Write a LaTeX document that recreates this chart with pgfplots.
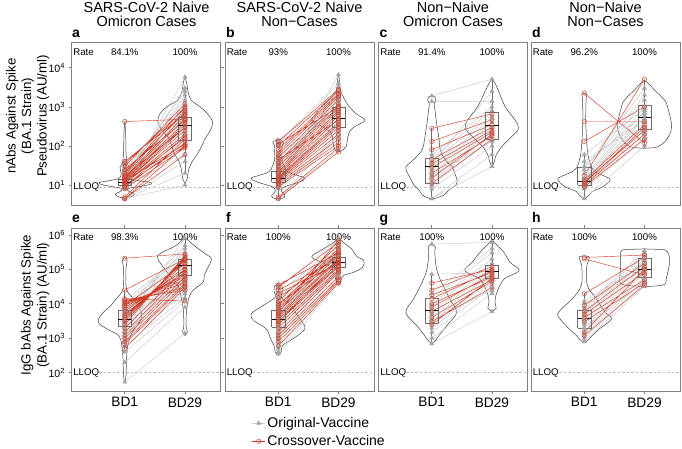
\documentclass[border=0pt]{standalone}
\usepackage{fontspec}
\setmainfont{Liberation Sans}
\usepackage{pgfplots}
\usepackage{pgfplotstable}
\pgfplotsset{compat=1.18}
\newcommand{\fs}[1]{\fontsize{#1}{#1}\selectfont}
\definecolor{gpt}{RGB}{165,165,165}
\definecolor{gln}{RGB}{200,200,200}
\definecolor{rd}{RGB}{208,60,40}
\definecolor{frm}{RGB}{128,128,128}

% ---------- violin outlines (y, left half-width, right half-width) ----------
\pgfplotstableread{
y l r
4.6 0 0
5.0 0.1 0.1
5.8 0.16 0.16
6.8 0.08 0.08
8.2 0.06 0.06
10 0.35 0.38
11.5 0.43 0.44
13 0.25 0.22
15 0.09 0.08
20 0.06 0.06
28 0.08 0.08
36 0.04 0.04
70 0.02 0.02
200 0.015 0.015
420 0 0
}\vaA
\pgfplotstableread{
y l r
11 0 0
15 0.04 0.04
25 0.06 0.06
40 0.1 0.12
60 0.17 0.2
100 0.22 0.28
150 0.26 0.33
250 0.38 0.42
400 0.45 0.46
650 0.42 0.38
1000 0.3 0.25
1500 0.12 0.1
2500 0.05 0.05
4000 0.03 0.03
5800 0 0
}\vaB
\pgfplotstableread{
y l r
4.3 0 0
4.8 0.1 0.1
5.5 0.11 0.11
7 0.05 0.05
9 0.1 0.1
12 0.35 0.35
15 0.45 0.44
18 0.3 0.3
22 0.15 0.15
30 0.1 0.1
45 0.06 0.06
70 0.06 0.06
100 0.06 0.06
120 0.09 0.09
140 0.05 0.05
150 0 0
}\vbA
\pgfplotstableread{
y l r
71 0 0
80 0.06 0.08
100 0.08 0.13
150 0.1 0.15
210 0.12 0.17
300 0.25 0.25
450 0.44 0.44
650 0.38 0.3
1100 0.25 0.16
1800 0.1 0.08
2750 0.03 0.03
4500 0.02 0.02
6600 0 0
}\vbB
\pgfplotstableread{
y l r
4.3 0 0
5.5 0.15 0.2
7.4 0.21 0.28
10 0.3 0.4
13.5 0.34 0.42
20 0.4 0.38
29 0.43 0.34
45 0.3 0.22
80 0.16 0.14
150 0.12 0.12
380 0.08 0.08
900 0.05 0.05
1200 0.04 0.04
1500 0.07 0.07
1800 0.05 0.05
1900 0 0
}\vcA
\pgfplotstableread{
y l r
29 0 0
40 0.04 0.04
54 0.06 0.06
95 0.15 0.16
175 0.33 0.33
280 0.44 0.44
470 0.4 0.38
1000 0.24 0.22
2750 0.1 0.1
4000 0.05 0.05
5100 0 0
}\vcB
\pgfplotstableread{
y l r
4.3 0 0
5.5 0.08 0.08
6.8 0.13 0.13
9.1 0.32 0.31
13.5 0.44 0.43
16 0.4 0.37
22 0.2 0.18
27 0.13 0.13
44 0.08 0.08
80 0.05 0.05
380 0.025 0.025
1500 0.03 0.03
2000 0.04 0.04
2240 0 0
}\vdA
\pgfplotstableread{
y l r
87 0 0
90 0.15 0.15
95 0.24 0.22
140 0.36 0.36
310 0.45 0.45
1020 0.38 0.38
1500 0.33 0.33
2750 0.16 0.16
4000 0.06 0.06
4700 0 0
}\vdB
\pgfplotstableread{
y l r
54 0 0
80 0.02 0.02
260 0.03 0.03
620 0.05 0.05
1200 0.1 0.1
1870 0.3 0.16
2950 0.44 0.25
5100 0.38 0.28
8900 0.23 0.23
14000 0.14 0.14
27000 0.03 0.03
100000 0.02 0.02
180000 0.04 0.04
220000 0 0
}\veA
\pgfplotstableread{
y l r
1200 0 0
1500 0.04 0.04
2350 0.02 0.02
7300 0.03 0.03
21000 0.08 0.1
42000 0.15 0.3
66000 0.25 0.32
103000 0.34 0.37
200000 0.45 0.44
280000 0.42 0.34
480000 0.16 0.16
700000 0.05 0.05
840000 0 0
}\veB
\pgfplotstableread{
y l r
320 0 0
400 0.05 0.05
620 0.07 0.07
980 0.13 0.25
1870 0.2 0.44
3200 0.4 0.38
5100 0.45 0.3
8900 0.25 0.22
15500 0.05 0.05
22000 0.07 0.07
33000 0.06 0.06
37000 0 0
}\vfA
\pgfplotstableread{
y l r
34000 0 0
45000 0.04 0.04
66000 0.06 0.08
82000 0.1 0.25
115000 0.12 0.4
180000 0.35 0.42
240000 0.44 0.3
390000 0.25 0.22
600000 0.08 0.08
840000 0 0
}\vfB
\pgfplotstableread{
y l r
690 0 0
900 0.07 0.07
1200 0.12 0.12
2350 0.25 0.25
5600 0.43 0.41
14000 0.3 0.3
42000 0.16 0.16
102000 0.08 0.08
300000 0.05 0.05
450000 0.06 0.06
540000 0 0
}\vgA
\pgfplotstableread{
y l r
6000 0 0
7500 0.07 0.07
11000 0.05 0.05
21000 0.08 0.08
52000 0.2 0.2
91000 0.45 0.45
160000 0.33 0.3
310000 0.2 0.2
550000 0.06 0.06
720000 0 0
}\vgB
\pgfplotstableread{
y l r
740 0 0
900 0.07 0.07
1200 0.13 0.13
1870 0.25 0.25
3600 0.4 0.45
5600 0.43 0.35
14000 0.2 0.2
34000 0.05 0.05
115000 0.04 0.04
160000 0.06 0.06
230000 0.08 0.08
240000 0 0
}\vhA
\pgfplotstableread{
y l r
32000 0 0
33000 0.2 0.2
37000 0.38 0.34
52000 0.41 0.36
103000 0.4 0.4
200000 0.4 0.42
350000 0.38 0.36
380000 0.2 0.2
390000 0 0
}\vhB

\pgfplotsset{
  vio/.style={smooth, tension=0.6, draw=black!75, line width=0.5pt},
  boxst/.style={draw=black!58, line width=0.6pt},
  medst/.style={draw=black, line width=1pt},
  greypair/.style={draw=gln, line width=0.45pt, mark=triangle*, mark size=2.4pt,
     mark options={fill=gpt, draw=gpt, solid}},
  redpair/.style={draw=rd, line width=0.45pt, mark=o, mark size=2.2pt,
     mark options={draw=rd, solid}},
  lloqst/.style={draw=black!25, dashed, dash pattern=on 2.5pt off 2pt, line width=0.5pt},
  legend image code/.code={\draw[mark repeat=2,mark phase=2,#1]
     plot coordinates {(0pt,0pt) (6.5pt,0pt) (13pt,0pt)};},
}
\newcommand{\violin}[2]{%
  \addplot[vio] table[x expr={#1+\thisrow{r}}, y=y] {#2};
  \addplot[vio] table[x expr={#1-\thisrow{l}}, y=y] {#2};}
\newcommand{\bx}[8]{%
  \addplot[boxst] coordinates {(#2,#7) (#2,#8)};
  \addplot[boxst] coordinates {(#2,#5) (#2,#4)};
  \addplot[boxst] coordinates {(#1,#5) (#3,#5) (#3,#7) (#1,#7) (#1,#5)};
  \addplot[medst] coordinates {(#1,#6) (#3,#6)};}
\newcommand{\bxA}[5]{\bx{0.89}{1}{1.11}{#1}{#2}{#3}{#4}{#5}}
\newcommand{\bxB}[5]{\bx{1.89}{2}{2.11}{#1}{#2}{#3}{#4}{#5}}
\newcommand{\rate}[3]{%
  \node[anchor=base west, font=\fs{9.7}, inner sep=0pt, xshift=1.6pt, yshift=-#3] at (rel axis cs:0,1) {Rate};
  \node[anchor=base, font=\fs{9.7}, inner sep=0pt, yshift=-#3] at (rel axis cs:0.3576,1) {#1};
  \node[anchor=base, font=\fs{9.7}, inner sep=0pt, yshift=-#3] at (rel axis cs:0.7616,1) {#2};}
\newcommand{\lloq}[1]{%
  \addplot[lloqst] coordinates {(0.58,#1) (2.59,#1)};
  \node[anchor=west, font=\fs{9.7}, inner sep=0pt, xshift=1.6pt] at (axis cs:0.115,#1) {LLOQ};}

\begin{document}
\begin{tikzpicture}
\useasboundingbox (0pt,0pt) rectangle (682pt,-448pt);

% ---------------- titles, letters, y labels ----------------
\begin{scope}[every node/.style={font=\fs{14.5}, inner sep=0pt, anchor=base}]
\node at (146.5pt,-12.3pt) {SARS-CoV-2 Naive};
\node at (146.5pt,-26.7pt) {Omicron Cases};
\node at (299.5pt,-12.3pt) {SARS-CoV-2 Naive};
\node at (299.5pt,-26.7pt) {Non−Cases};
\node at (453pt,-12.3pt) {Non−Naive};
\node at (453pt,-26.7pt) {Omicron Cases};
\node at (605.5pt,-12.3pt) {Non−Naive};
\node at (605.5pt,-26.7pt) {Non−Cases};
\end{scope}
\begin{scope}[every node/.style={font=\bfseries\fs{14}, inner sep=0pt, anchor=base west}]
\node at (72pt,-37.3pt) {a};
\node at (226pt,-37.3pt) {b};
\node at (379.5pt,-37.3pt) {c};
\node at (532pt,-37.3pt) {d};
\node at (72pt,-222.5pt) {e};
\node at (226pt,-222.5pt) {f};
\node at (379.5pt,-222.5pt) {g};
\node at (532pt,-222.5pt) {h};
\end{scope}
\begin{scope}[every node/.style={font=\fs{13.3}, inner sep=0pt, anchor=base, rotate=90}]
\node at (15.7pt,-116pt) {nAbs Against Spike};
\node at (31pt,-116pt) {(BA.1 Strain)};
\node at (46.7pt,-116pt) {Pseudovirus (AU/ml)};
\node at (30.7pt,-305pt) {IgG bAbs Against Spike};
\node at (46.7pt,-305pt) {(BA.1 Strain) (AU/ml)};
\end{scope}

% ---------------- panel a ----------------
\begin{axis}[scale only axis, width=149pt, height=163pt, anchor=north west,
  xmin=0.115, xmax=2.59, ymode=log, ymin=3, ymax=44000,
  axis line style={draw=frm, line width=0.8pt}, tick style={draw=frm, line width=0.6pt},
  tick align=outside, major tick length=3pt, xtick=\empty,
  xminorticks=false, yminorticks=false, unbounded coords=jump,
  tick label style={font=\fs{10.6}},
  at={(71.5pt,-42.5pt)}, ytick={10,100,1000,10000},
  yticklabels={10\textsuperscript{1},10\textsuperscript{2},10\textsuperscript{3},10\textsuperscript{4}}]
\lloq{9}
\violin{1}{\vaA}
\violin{2}{\vaB}
\addplot[greypair] table[row sep=\\] {x y\\
1 4.5\\2 10\\nan nan\\1 4.5\\2 20\\nan nan\\1 4.5\\2 40\\nan nan\\1 9\\2 60\\nan nan\\1 10\\2 5800\\nan nan\\
1 12\\2 2000\\nan nan\\1 15\\2 3000\\nan nan\\1 20\\2 1500\\nan nan\\1 11\\2 1200\\nan nan\\1 13\\2 900\\nan nan\\
1 9\\2 700\\nan nan\\1 14\\2 600\\nan nan\\1 25\\2 1000\\nan nan\\1 30\\2 800\\nan nan\\1 18\\2 500\\nan nan\\
1 12\\2 400\\nan nan\\1 10\\2 350\\nan nan\\1 16\\2 300\\nan nan\\1 22\\2 250\\nan nan\\1 11\\2 200\\nan nan\\
1 35\\2 1100\\nan nan\\1 40\\2 700\\nan nan\\1 8\\2 150\\nan nan\\1 13\\2 450\\nan nan\\1 17\\2 2500\\};
\addplot[redpair] table[row sep=\\] {x y\\
1 420\\2 480\\nan nan\\1 4.5\\2 60\\nan nan\\1 4.5\\2 100\\nan nan\\1 5\\2 150\\nan nan\\1 8\\2 90\\nan nan\\
1 9\\2 120\\nan nan\\1 10\\2 100\\nan nan\\1 11\\2 200\\nan nan\\1 12\\2 250\\nan nan\\1 12\\2 300\\nan nan\\
1 13\\2 350\\nan nan\\1 14\\2 400\\nan nan\\1 15\\2 500\\nan nan\\1 16\\2 600\\nan nan\\1 18\\2 800\\nan nan\\
1 20\\2 1000\\nan nan\\1 22\\2 700\\nan nan\\1 25\\2 450\\nan nan\\1 30\\2 1200\\nan nan\\1 35\\2 900\\nan nan\\
1 40\\2 650\\nan nan\\1 11\\2 160\\nan nan\\1 13\\2 110\\nan nan\\1 17\\2 300\\nan nan\\1 9\\2 180\\};
\bxA{8}{10}{11.5}{14}{23}
\bxB{20}{142}{325}{550}{3000}
\rate{84.1\%}{100\%}{12.7pt}
\end{axis}

% ---------------- panel b ----------------
\begin{axis}[scale only axis, width=149pt, height=163pt, anchor=north west,
  xmin=0.115, xmax=2.59, ymode=log, ymin=3, ymax=44000,
  axis line style={draw=frm, line width=0.8pt}, tick style={draw=frm, line width=0.6pt},
  tick align=outside, major tick length=3pt, xtick=\empty, ytick=\empty,
  xminorticks=false, yminorticks=false, unbounded coords=jump,
  at={(225pt,-42.5pt)}]
\lloq{9}
\violin{1}{\vbA}
\violin{2}{\vbB}
\addplot[greypair] table[row sep=\\] {x y\\
1 4.5\\2 80\\nan nan\\1 4.5\\2 200\\nan nan\\1 8\\2 150\\nan nan\\1 10\\2 6600\\nan nan\\1 12\\2 3000\\nan nan\\
1 15\\2 2500\\nan nan\\1 20\\2 2000\\nan nan\\1 25\\2 1500\\nan nan\\1 30\\2 1200\\nan nan\\1 40\\2 1000\\nan nan\\
1 60\\2 900\\nan nan\\1 100\\2 800\\nan nan\\1 130\\2 700\\nan nan\\1 140\\2 2000\\nan nan\\1 120\\2 4000\\nan nan\\
1 18\\2 600\\nan nan\\1 14\\2 500\\nan nan\\1 11\\2 400\\nan nan\\1 16\\2 350\\nan nan\\1 22\\2 300\\nan nan\\
1 13\\2 250\\nan nan\\1 9\\2 180\\nan nan\\1 35\\2 1800\\nan nan\\1 50\\2 1100\\nan nan\\1 28\\2 700\\};
\addplot[redpair] table[row sep=\\] {x y\\
1 4.5\\2 70\\nan nan\\1 5\\2 90\\nan nan\\1 9\\2 100\\nan nan\\1 10\\2 120\\nan nan\\1 11\\2 150\\nan nan\\
1 12\\2 200\\nan nan\\1 13\\2 250\\nan nan\\1 14\\2 300\\nan nan\\1 15\\2 350\\nan nan\\1 16\\2 400\\nan nan\\
1 18\\2 500\\nan nan\\1 20\\2 600\\nan nan\\1 22\\2 700\\nan nan\\1 25\\2 800\\nan nan\\1 30\\2 900\\nan nan\\
1 35\\2 1000\\nan nan\\1 40\\2 1200\\nan nan\\1 50\\2 1500\\nan nan\\1 60\\2 1800\\nan nan\\1 80\\2 2200\\nan nan\\
1 100\\2 2600\\nan nan\\1 130\\2 2800\\nan nan\\1 110\\2 1000\\nan nan\\1 45\\2 450\\nan nan\\1 70\\2 2000\\};
\bxA{5}{12}{15}{22}{50}
\bxB{70}{300}{500}{1000}{4000}
\rate{93\%}{100\%}{12.7pt}
\end{axis}

% ---------------- panel c ----------------
\begin{axis}[scale only axis, width=149pt, height=163pt, anchor=north west,
  xmin=0.115, xmax=2.59, ymode=log, ymin=3, ymax=44000,
  axis line style={draw=frm, line width=0.8pt}, tick style={draw=frm, line width=0.6pt},
  tick align=outside, major tick length=3pt, xtick=\empty, ytick=\empty,
  xminorticks=false, yminorticks=false, unbounded coords=jump,
  at={(378.5pt,-42.5pt)}]
\lloq{9}
\violin{1}{\vcA}
\violin{2}{\vcB}
\addplot[greypair] table[row sep=\\] {x y\\
1 1900\\2 5100\\nan nan\\1 1380\\2 1380\\nan nan\\1 4.5\\2 30\\nan nan\\1 4.5\\2 60\\nan nan\\1 8\\2 100\\nan nan\\
1 10\\2 150\\nan nan\\1 12\\2 200\\nan nan\\1 15\\2 250\\nan nan\\1 20\\2 300\\nan nan\\1 25\\2 400\\nan nan\\
1 30\\2 500\\nan nan\\1 40\\2 600\\nan nan\\1 50\\2 800\\nan nan\\1 60\\2 1000\\nan nan\\1 18\\2 130\\nan nan\\1 35\\2 2500\\};
\addplot[redpair] table[row sep=\\] {x y\\
1 280\\2 660\\nan nan\\1 130\\2 470\\nan nan\\1 80\\2 350\\nan nan\\1 45\\2 300\\nan nan\\1 35\\2 250\\nan nan\\
1 28\\2 220\\nan nan\\1 20\\2 180\\nan nan\\1 15\\2 200\\nan nan\\1 11\\2 150\\};
\bxA{4.5}{11}{29}{48}{280}
\bxB{30}{150}{325}{720}{5100}
\rate{91.4\%}{100\%}{12.7pt}
\end{axis}

% ---------------- panel d ----------------
\begin{axis}[scale only axis, width=149pt, height=163pt, anchor=north west,
  xmin=0.115, xmax=2.59, ymode=log, ymin=3, ymax=44000,
  axis line style={draw=frm, line width=0.8pt}, tick style={draw=frm, line width=0.6pt},
  tick align=outside, major tick length=3pt, xtick=\empty, ytick=\empty,
  xminorticks=false, yminorticks=false, unbounded coords=jump,
  at={(531pt,-42.5pt)}]
\lloq{9}
\violin{1}{\vdA}
\violin{2}{\vdB}
\addplot[greypair] table[row sep=\\] {x y\\
1 4.5\\2 100\\nan nan\\1 8\\2 150\\nan nan\\1 9\\2 200\\nan nan\\1 10\\2 250\\nan nan\\1 10\\2 300\\nan nan\\
1 11\\2 400\\nan nan\\1 12\\2 500\\nan nan\\1 12\\2 600\\nan nan\\1 13\\2 800\\nan nan\\1 14\\2 1000\\nan nan\\
1 15\\2 1500\\nan nan\\1 20\\2 2000\\nan nan\\1 25\\2 3000\\nan nan\\1 30\\2 700\\nan nan\\1 40\\2 450\\nan nan\\1 60\\2 900\\};
\addplot[redpair] table[row sep=\\] {x y\\
1 2240\\2 117\\nan nan\\1 415\\2 415\\nan nan\\1 130\\2 1000\\nan nan\\1 17\\2 5100\\nan nan\\1 10\\2 200\\nan nan\\
1 11\\2 300\\nan nan\\1 12\\2 250\\nan nan\\1 13\\2 350\\nan nan\\1 9\\2 150\\};
\bxA{4.5}{10}{12}{29}{60}
\bxB{87}{260}{520}{1070}{4700}
\rate{96.2\%}{100\%}{12.7pt}
\end{axis}

% ---------------- panel e ----------------
\begin{axis}[scale only axis, width=149pt, height=163pt, anchor=north west,
  xmin=0.115, xmax=2.59, ymode=log, ymin=29.5, ymax=1.58e6,
  axis line style={draw=frm, line width=0.8pt}, tick style={draw=frm, line width=0.6pt},
  tick align=outside, major tick length=3pt,
  xtick={1,2}, xticklabels={BD1,BD29}, xticklabel style={font=\fs{13.7}},
  xminorticks=false, yminorticks=false, unbounded coords=jump,
  yticklabel style={font=\fs{10.6}},
  at={(71.5pt,-228pt)}, ytick={100,1000,10000,100000,1000000},
  yticklabels={10\textsuperscript{2},10\textsuperscript{3},10\textsuperscript{4},10\textsuperscript{5},10\textsuperscript{6}}]
\lloq{100}
\violin{1}{\veA}
\violin{2}{\veB}
\addplot[greypair] table[row sep=\\] {x y\\
1 54\\2 1400\\nan nan\\1 200\\2 8000\\nan nan\\1 400\\2 12000\\nan nan\\1 600\\2 15000\\nan nan\\1 800\\2 20000\\nan nan\\
1 1000\\2 25000\\nan nan\\1 1200\\2 30000\\nan nan\\1 1500\\2 40000\\nan nan\\1 2000\\2 50000\\nan nan\\1 2500\\2 60000\\nan nan\\
1 3000\\2 70000\\nan nan\\1 3500\\2 80000\\nan nan\\1 4000\\2 100000\\nan nan\\1 5000\\2 120000\\nan nan\\1 6000\\2 150000\\nan nan\\
1 7000\\2 180000\\nan nan\\1 8000\\2 200000\\nan nan\\1 10000\\2 250000\\nan nan\\1 12000\\2 300000\\nan nan\\1 3000\\2 800000\\nan nan\\
1 5000\\2 400000\\nan nan\\1 2000\\2 90000\\nan nan\\1 1500\\2 60000\\nan nan\\1 4500\\2 35000\\nan nan\\1 6500\\2 500000\\};
\addplot[redpair] table[row sep=\\] {x y\\
1 210000\\2 280000\\nan nan\\1 25000\\2 200000\\nan nan\\1 14000\\2 12000\\nan nan\\1 13000\\2 25000\\nan nan\\1 12000\\2 30000\\nan nan\\
1 11000\\2 40000\\nan nan\\1 10000\\2 50000\\nan nan\\1 9000\\2 60000\\nan nan\\1 8000\\2 70000\\nan nan\\1 7000\\2 80000\\nan nan\\
1 6000\\2 100000\\nan nan\\1 5000\\2 120000\\nan nan\\1 4500\\2 150000\\nan nan\\1 4000\\2 180000\\nan nan\\1 3500\\2 200000\\nan nan\\
1 3000\\2 220000\\nan nan\\1 2500\\2 250000\\nan nan\\1 2000\\2 100000\\nan nan\\1 1500\\2 80000\\nan nan\\1 1200\\2 60000\\nan nan\\
1 1000\\2 50000\\nan nan\\1 800\\2 40000\\nan nan\\1 500\\2 30000\\nan nan\\1 700\\2 35000\\nan nan\\1 9000\\2 150000\\};
\bxA{500}{2200}{3500}{6500}{25000}
\bxB{12000}{66000}{127000}{200000}{800000}
\rate{98.3\%}{100\%}{12pt}
\end{axis}

% ---------------- panel f ----------------
\begin{axis}[scale only axis, width=149pt, height=163pt, anchor=north west,
  xmin=0.115, xmax=2.59, ymode=log, ymin=29.5, ymax=1.58e6,
  axis line style={draw=frm, line width=0.8pt}, tick style={draw=frm, line width=0.6pt},
  tick align=outside, major tick length=3pt, ytick=\empty,
  xtick={1,2}, xticklabels={BD1,BD29}, xticklabel style={font=\fs{13.7}},
  xminorticks=false, yminorticks=false, unbounded coords=jump,
  at={(225pt,-228pt)},
  legend style={at={(0.18,-0.148)}, anchor=north west, draw=none, fill=none,
    font=\fs{14}, row sep=2.5pt, inner sep=0pt, cells={anchor=west}},
  legend cell align=left]
\addlegendimage{greypair}
\addlegendentry{Original-Vaccine}
\addlegendimage{redpair}
\addlegendentry{Crossover-Vaccine}
\lloq{100}
\violin{1}{\vfA}
\violin{2}{\vfB}
\addplot[greypair] table[row sep=\\] {x y\\
1 350\\2 40000\\nan nan\\1 400\\2 60000\\nan nan\\1 500\\2 80000\\nan nan\\1 600\\2 100000\\nan nan\\1 800\\2 120000\\nan nan\\
1 1000\\2 150000\\nan nan\\1 1200\\2 180000\\nan nan\\1 1500\\2 200000\\nan nan\\1 2000\\2 250000\\nan nan\\1 2500\\2 300000\\nan nan\\
1 3000\\2 400000\\nan nan\\1 3500\\2 500000\\nan nan\\1 4000\\2 600000\\nan nan\\1 5000\\2 800000\\nan nan\\1 6000\\2 200000\\nan nan\\
1 7000\\2 150000\\nan nan\\1 8000\\2 120000\\nan nan\\1 10000\\2 300000\\nan nan\\1 12000\\2 250000\\nan nan\\1 15000\\2 400000\\nan nan\\
1 20000\\2 500000\\nan nan\\1 30000\\2 700000\\nan nan\\1 37000\\2 250000\\nan nan\\1 2500\\2 80000\\nan nan\\1 4500\\2 120000\\};
\addplot[redpair] table[row sep=\\] {x y\\
1 35000\\2 300000\\nan nan\\1 30000\\2 600000\\nan nan\\1 25000\\2 200000\\nan nan\\1 20000\\2 150000\\nan nan\\1 15000\\2 250000\\nan nan\\
1 12000\\2 500000\\nan nan\\1 10000\\2 180000\\nan nan\\1 9000\\2 400000\\nan nan\\1 8000\\2 350000\\nan nan\\1 7000\\2 300000\\nan nan\\
1 6000\\2 250000\\nan nan\\1 5000\\2 200000\\nan nan\\1 4500\\2 180000\\nan nan\\1 4000\\2 150000\\nan nan\\1 3500\\2 130000\\nan nan\\
1 3000\\2 120000\\nan nan\\1 2500\\2 100000\\nan nan\\1 2000\\2 90000\\nan nan\\1 1500\\2 80000\\nan nan\\1 1200\\2 60000\\nan nan\\
1 1000\\2 50000\\nan nan\\1 800\\2 45000\\nan nan\\1 600\\2 40000\\nan nan\\1 5500\\2 700000\\nan nan\\1 3000\\2 160000\\};
\bxA{350}{2100}{3600}{6300}{37000}
\bxB{40000}{115000}{160000}{230000}{700000}
\rate{100\%}{100\%}{12pt}
\end{axis}

% ---------------- panel g ----------------
\begin{axis}[scale only axis, width=149pt, height=163pt, anchor=north west,
  xmin=0.115, xmax=2.59, ymode=log, ymin=29.5, ymax=1.58e6,
  axis line style={draw=frm, line width=0.8pt}, tick style={draw=frm, line width=0.6pt},
  tick align=outside, major tick length=3pt, ytick=\empty,
  xtick={1,2}, xticklabels={BD1,BD29}, xticklabel style={font=\fs{13.7}},
  xminorticks=false, yminorticks=false, unbounded coords=jump,
  at={(378.5pt,-228pt)}]
\lloq{100}
\violin{1}{\vgA}
\violin{2}{\vgB}
\addplot[greypair] table[row sep=\\] {x y\\
1 540000\\2 600000\\nan nan\\1 72000\\2 80000\\nan nan\\1 700\\2 6000\\nan nan\\1 1000\\2 20000\\nan nan\\1 1500\\2 30000\\nan nan\\
1 2000\\2 40000\\nan nan\\1 2500\\2 50000\\nan nan\\1 3000\\2 60000\\nan nan\\1 4000\\2 70000\\nan nan\\1 5000\\2 90000\\nan nan\\
1 6000\\2 110000\\nan nan\\1 8000\\2 150000\\nan nan\\1 10000\\2 200000\\nan nan\\1 15000\\2 300000\\nan nan\\1 20000\\2 400000\\nan nan\\1 3500\\2 25000\\};
\addplot[redpair] table[row sep=\\] {x y\\
1 40000\\2 100000\\nan nan\\1 25000\\2 120000\\nan nan\\1 18000\\2 80000\\nan nan\\1 14000\\2 90000\\nan nan\\1 10000\\2 60000\\nan nan\\
1 8000\\2 70000\\nan nan\\1 6000\\2 50000\\nan nan\\1 4000\\2 45000\\nan nan\\1 3000\\2 30000\\nan nan\\1 2500\\2 55000\\};
\bxA{700}{2800}{6300}{14500}{72000}
\bxB{20000}{55000}{87000}{130000}{600000}
\rate{100\%}{100\%}{12pt}
\end{axis}

% ---------------- panel h ----------------
\begin{axis}[scale only axis, width=149pt, height=163pt, anchor=north west,
  xmin=0.115, xmax=2.59, ymode=log, ymin=29.5, ymax=1.58e6,
  axis line style={draw=frm, line width=0.8pt}, tick style={draw=frm, line width=0.6pt},
  tick align=outside, major tick length=3pt, ytick=\empty,
  xtick={1,2}, xticklabels={BD1,BD29}, xticklabel style={font=\fs{13.7}},
  xminorticks=false, yminorticks=false, unbounded coords=jump,
  at={(531pt,-228pt)}]
\lloq{100}
\violin{1}{\vhA}
\violin{2}{\vhB}
\addplot[greypair] table[row sep=\\] {x y\\
1 800\\2 32000\\nan nan\\1 1000\\2 40000\\nan nan\\1 1200\\2 50000\\nan nan\\1 1500\\2 60000\\nan nan\\1 2000\\2 80000\\nan nan\\
1 2500\\2 100000\\nan nan\\1 3000\\2 120000\\nan nan\\1 3500\\2 150000\\nan nan\\1 4000\\2 180000\\nan nan\\1 5000\\2 200000\\nan nan\\
1 6000\\2 250000\\nan nan\\1 7000\\2 300000\\nan nan\\1 8000\\2 350000\\nan nan\\1 10000\\2 100000\\nan nan\\1 2000\\2 45000\\nan nan\\1 12000\\2 150000\\};
\addplot[redpair] table[row sep=\\] {x y\\
1 220000\\2 260000\\nan nan\\1 200000\\2 69000\\nan nan\\1 19500\\2 220000\\nan nan\\1 9000\\2 150000\\nan nan\\1 6000\\2 120000\\nan nan\\
1 5000\\2 80000\\nan nan\\1 4000\\2 50000\\nan nan\\1 3000\\2 40000\\nan nan\\1 1500\\2 100000\\nan nan\\1 1200\\2 35000\\};
\bxA{800}{1950}{3800}{6300}{20000}
\bxB{32000}{59000}{100000}{210000}{390000}
\rate{100\%}{100\%}{12pt}
\end{axis}
\end{tikzpicture}
\end{document}
